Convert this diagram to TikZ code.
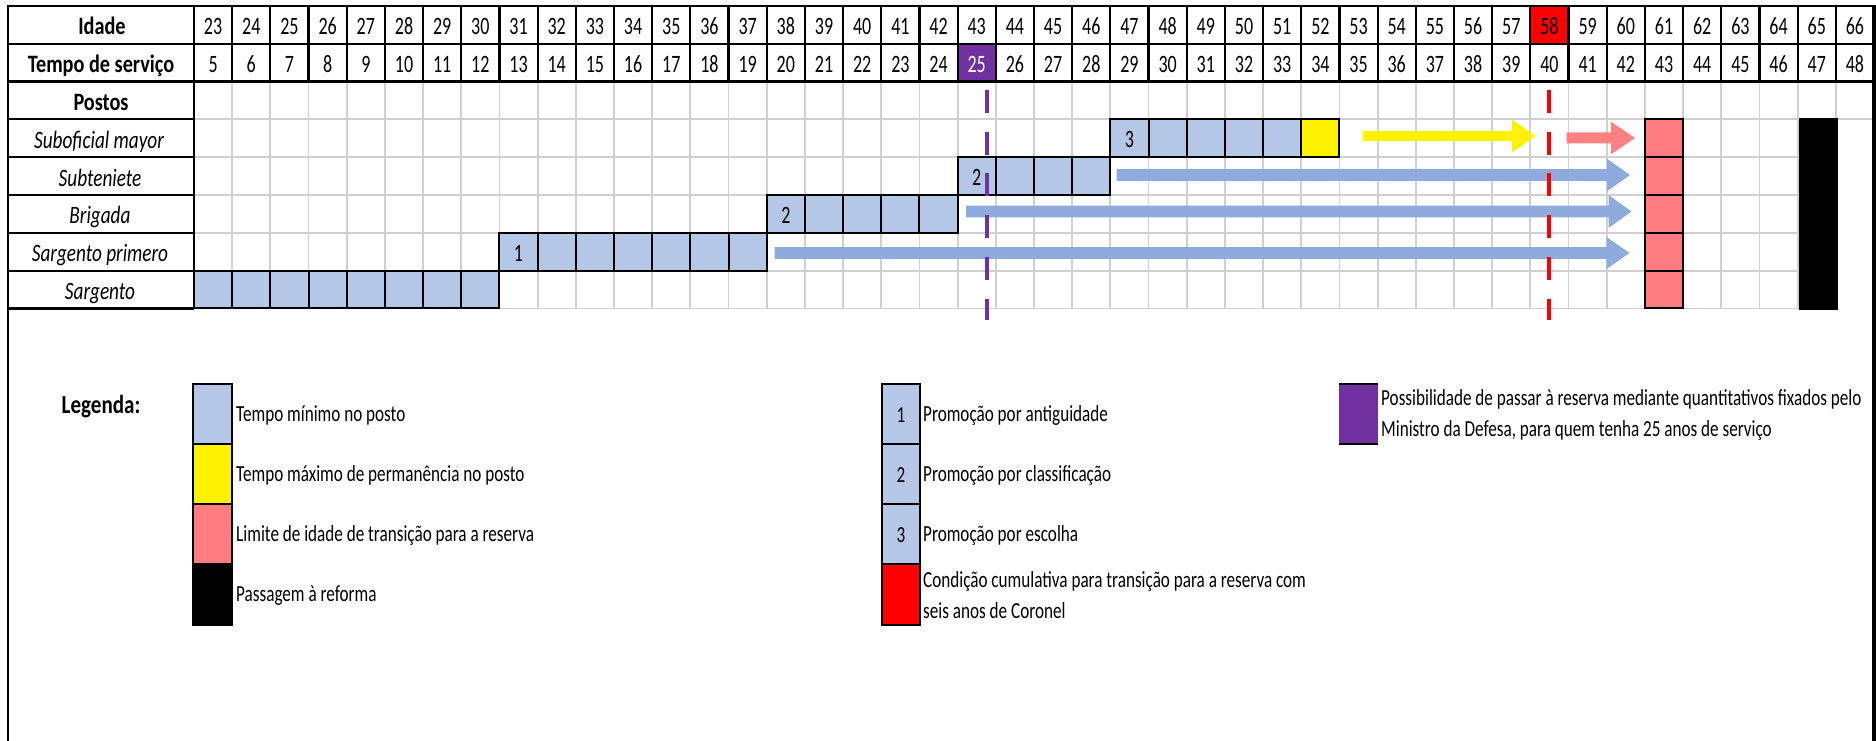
\documentclass[tikz,border=0pt]{standalone}
\usepackage{fontspec}
\setmainfont{Carlito}[FakeStretch=0.75]
\newfontfamily\hdrfont{Carlito}[FakeStretch=0.81]
\newfontfamily\legfont{Carlito}[FakeStretch=0.745]
\newfontfamily\rankfont{Carlito}[FakeStretch=0.77]
\newfontfamily\numfont{Carlito}[FakeStretch=0.72]
\definecolor{cellblue}{HTML}{B4C7E7}
\definecolor{arrowblue}{HTML}{8FAADC}
\definecolor{cellpink}{HTML}{FF7C80}
\definecolor{arrowpink}{HTML}{FF8080}
\definecolor{gridgray}{HTML}{D0D0D0}
\definecolor{purp}{HTML}{7030A0}
\newcommand\cellbox[3]{\filldraw[fill=#3,draw=black,line width=2pt] ({194+#1*38.1818},{6+#2*37.8}) rectangle ({194+(#1+1)*38.1818},{6+(#2+1)*37.8});}
\newcommand\blockarrow[7]{\fill[#1] (#2,{#4-#5}) -- ({#3-#7},{#4-#5}) -- ({#3-#7},{#4-#6}) -- (#3,#4) -- ({#3-#7},{#4+#6}) -- ({#3-#7},{#4+#5}) -- (#2,{#4+#5}) -- cycle;}
\begin{document}
\begin{tikzpicture}[x=1pt,y=-1pt,
  gridline/.style={draw=gridgray,line width=1.8pt},
  blackline/.style={draw=black,line width=2.2pt},
  numtxt/.style={anchor=base,inner sep=0pt,font=\numfont\fontsize{25}{29}\selectfont},
  hdrtxt/.style={anchor=base,inner sep=0pt,font=\hdrfont\fontsize{25}{30}\selectfont\bfseries},
  ranktxt/.style={anchor=base,inner sep=0pt,font=\rankfont\fontsize{25}{30}\selectfont\itshape},
  legtxt/.style={anchor=base west,inner sep=0pt,align=left,font=\legfont\fontsize{23}{31}\selectfont},
  boxnum/.style={anchor=base,inner sep=0pt,font=\legfont\fontsize{23}{27}\selectfont},
]
\useasboundingbox (0,0) rectangle (1876,741);
\fill[white] (0,0) rectangle (1876,741);
% body grid
\foreach \i in {1,...,43} {\draw[gridline] ({194+\i*38.1818},81.6) -- ({194+\i*38.1818},308.4);}
\foreach \r in {3,...,8} {\draw[gridline] (194,{6+\r*37.8}) -- (1874,{6+\r*37.8});}
\fill[white] ({194+43*38.1818+1.2},120.6) rectangle (1872,310);
% coloured cells
\foreach \i in {0,...,7} {\cellbox{\i}{7}{cellblue}}
\foreach \i in {8,...,14} {\cellbox{\i}{6}{cellblue}}
\foreach \i in {15,...,19} {\cellbox{\i}{5}{cellblue}}
\foreach \i in {20,...,23} {\cellbox{\i}{4}{cellblue}}
\foreach \i in {24,...,28} {\cellbox{\i}{3}{cellblue}}
\cellbox{29}{3}{yellow}
\foreach \r in {3,...,7} {\cellbox{38}{\r}{cellpink}}
\fill[black] ({194+42*38.1818+1},117.7) rectangle ({194+43*38.1818+2.5},309.5);
\fill[purp] ({194+20*38.1818},43.8) rectangle ({194+21*38.1818},81.6);
\fill[red] ({194+35*38.1818},6) rectangle ({194+36*38.1818},43.8);
% header lines
\foreach \y in {6,43.8,81.6} {\draw[blackline] (8,\y) -- (1874,\y);}
\foreach \i in {1,...,43} {\draw[blackline] ({194+\i*38.1818},6) -- ({194+\i*38.1818},81.6);}
\draw[blackline] (194,6) -- (194,308.4);
\foreach \r in {3,...,8} {\draw[blackline] (8,{6+\r*37.8}) -- (194,{6+\r*37.8});}
\draw[line width=2.5pt] (8,5) -- (8,741);
\draw[line width=3.5pt] (1874,5) -- (1874,741);
% header texts
\foreach \i in {0,...,43} {
  \pgfmathtruncatemacro\age{23+\i}
  \pgfmathtruncatemacro\ts{5+\i}
  \node[numtxt] (age\i) at ({194+(\i+0.5)*38.1818},34.3) {\age};
  \ifnum\i=20
    \node[numtxt,text=white] (ts\i) at ({194+(\i+0.5)*38.1818},72.1) {\ts};
  \else
    \node[numtxt] (ts\i) at ({194+(\i+0.5)*38.1818},72.1) {\ts};
  \fi
}
\node[hdrtxt] (idade) at (102,34.3) {Idade};
\node[hdrtxt] (tempo) at (101,72.5) {Tempo de serviço};
\node[hdrtxt] (postos) at (101,110.3) {Postos};
\node[ranktxt] (subof) at (99,148.3) {Suboficial mayor};
\node[ranktxt] (subten) at (100,186) {Subteniete};
\node[ranktxt] (brig) at (100,223.8) {Brigada};
\node[ranktxt] (sargp) at (100,261.6) {Sargento primero};
\node[ranktxt] (sarg) at (100,299.2) {Sargento};
% numbers in cells
\node[numtxt] (p1) at ({194+8.5*38.1818},261.1) {1};
\node[numtxt] (p2a) at ({194+15.5*38.1818},223.3) {2};
\node[numtxt] (p2b) at ({194+20.5*38.1818},185.5) {2};
\node[numtxt] (p3) at ({194+24.5*38.1818},147.7) {3};
% arrows
\blockarrow{yellow}{1362.5}{1535.5}{136}{5.2}{16.5}{23.5}
\blockarrow{arrowpink}{1566.5}{1635}{138}{5.5}{16.3}{24}
\blockarrow{arrowblue}{1116.5}{1630}{175}{5.8}{16.2}{23}
\blockarrow{arrowblue}{966}{1631.5}{211.5}{5.8}{16.5}{23}
\blockarrow{arrowblue}{774.5}{1629.5}{253}{5.8}{16}{23}
% dashed lines
\draw[purp,line width=4pt,dash pattern=on 23pt off 18.7pt] (986.5,90) -- (986.5,320);
\draw[red,line width=4pt,dash pattern=on 23pt off 18.7pt] (1549,90) -- (1549,320);
% legend
\node[hdrtxt,font=\hdrfont\fontsize{26}{30}\selectfont\bfseries] (legenda) at (101,413.3) {Legenda:};
\filldraw[fill=cellblue,draw=black,line width=2pt] (193,384) rectangle (232,444);
\filldraw[fill=yellow,draw=black,line width=2pt] (193,444) rectangle (232,504);
\filldraw[fill=cellpink,draw=black,line width=2pt] (193,504) rectangle (232,564);
\filldraw[fill=black,draw=black,line width=2pt] (193,564) rectangle (232,625);
\node[legtxt] (l1) at (236,421.7) {Tempo mínimo no posto};
\node[legtxt] (l2) at (236,481.7) {Tempo máximo de permanência no posto};
\node[legtxt] (l3) at (236,541.7) {Limite de idade de transição para a reserva};
\node[legtxt] (l4) at (236,601.7) {Passagem à reforma};
\filldraw[fill=cellblue,draw=black,line width=2pt] (882,384) rectangle (920,444);
\filldraw[fill=cellblue,draw=black,line width=2pt] (882,444) rectangle (920,504);
\filldraw[fill=cellblue,draw=black,line width=2pt] (882,504) rectangle (920,564);
\filldraw[fill=red,draw=black,line width=2pt] (882,564) rectangle (920,625);
\node[boxnum] (b1) at (901,422) {1};
\node[boxnum] (b2) at (901,482) {2};
\node[boxnum] (b3) at (901,542) {3};
\node[legtxt] (m1) at (923,421.7) {Promoção por antiguidade};
\node[legtxt] (m2) at (923,481.7) {Promoção por classificação};
\node[legtxt] (m3) at (923,541.7) {Promoção por escolha};
\node[legtxt] (m4) at (923,587) {Condição cumulativa para transição para a reserva com};
\node[legtxt] (m4b) at (923,618) {seis anos de Coronel};
\fill[purp] (1339,384) rectangle (1378,444);
\draw[line width=2.5pt] (1339,384) -- (1378,384);
\draw[line width=2.5pt] (1339,444) -- (1378,444);
\node[legtxt] (r1) at (1381,405) {Possibilidade de passar à reserva mediante quantitativos fixados pelo};
\node[legtxt] (r1b) at (1381,436) {Ministro da Defesa, para quem tenha 25 anos de serviço};
\end{tikzpicture}
\end{document}
